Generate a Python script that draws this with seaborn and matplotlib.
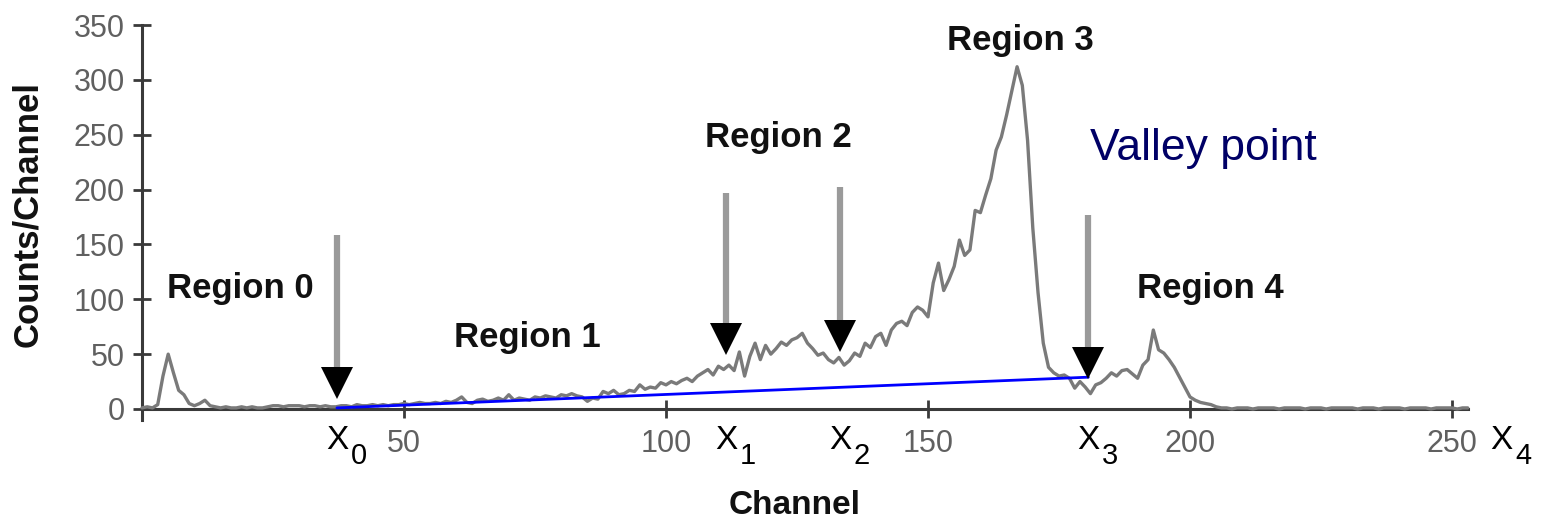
import numpy as np
import pandas as pd
import matplotlib
matplotlib.use("Agg")
import matplotlib.pyplot as plt
import seaborn as sns

# Gamma spectrum counts, one value per channel (0..253)
counts = (
    [1, 2, 1, 4, 30, 50, 33, 17, 13, 5, 3, 5, 8, 3]
    + [2, 1, 2, 1, 1, 2, 1, 2, 1, 1, 2]
    + [3, 3, 2, 3, 3, 3, 2, 3, 3, 2, 3, 2]
    + [2, 3, 3, 2, 4, 3, 3, 4, 3, 4, 3, 4]
    + [4, 5, 4, 5, 6, 5, 5, 6, 5, 7, 6, 8]
    + [11, 6, 5, 8, 9, 7, 8, 10, 8, 13]
    + [8, 10, 9, 8, 11, 10, 12, 11, 10, 13]
    + [12, 14, 12, 11, 7, 10, 9, 16, 14, 17]
    + [13, 14, 17, 16, 22, 18, 20, 19, 24, 22]
    + [25, 23, 26, 28, 25, 30, 33, 36, 31, 39]
    + [36, 40, 35, 52, 30, 48, 60, 45, 58, 50]
    + [55, 61, 58, 63, 65, 69, 60, 55, 49, 51]
    + [45, 42, 47, 40, 44, 51, 48, 60, 56, 66]
    + [69, 58, 72, 78, 80, 76, 88, 93, 90, 84]
    + [115, 133, 108, 118, 130, 154, 140, 145, 181, 179]
    + [195, 210, 236, 248, 268, 290, 312, 295, 245, 165]
    + [106, 60, 38, 33, 30, 31, 28, 19, 25, 20]
    + [14, 22, 24, 28, 33, 30, 35, 36, 32, 28]
    + [40, 45, 72, 54, 51, 45, 38, 29, 20, 11]
    + [8, 6, 5, 4, 2]
    + [1, 1, 0, 1, 1, 1, 0, 1, 1, 1, 1, 0, 1, 1, 1, 1,
       0, 1, 1, 1, 0, 1, 1, 1, 1, 1, 0, 1, 1, 1, 0, 1,
       1, 1, 1, 0, 1, 1, 1, 1, 0, 1, 1, 1, 1, 0, 1, 1]
)
channels = list(range(len(counts)))

# Region boundary markers x0..x3 (channel, arrow tip, arrow tail)
marker_channels = [37.2, 111.5, 133.2, 180.6]
marker_tips = [11, 51, 54, 29]
marker_tails = [159, 197, 202, 177]
marker_names = ["0", "1", "2", "3"]
# end-of-spectrum label x4
end_label_channel = 259.5

# Linear background between x0 and x3
baseline_channels = [37.2, 180.6]
baseline_counts = [1, 29]

# Region captions
region_names = ["Region 0", "Region 1", "Region 2", "Region 3", "Region 4"]
region_x = [18.7, 73.6, 121.4, 167.7, 203.8]
region_y = [101, 56.5, 239, 327, 101]

x_ticks = [50, 100, 150, 200, 250]
y_ticks = [0, 50, 100, 150, 200, 250, 300, 350]

sns.set_style("ticks")
plt.rcParams["font.family"] = ["Liberation Sans", "DejaVu Sans"]

W, H = 1541, 524
fig = plt.figure(figsize=(W / 100, H / 100), dpi=100)
# pixel geometry of the plotting frame
px_per_ch, px_x0 = 5.24, 142.0
px_per_cnt, px_y0 = 1.097, 409.0
ax_left_px, ax_bottom_px = 100, 430
ax = fig.add_axes([ax_left_px / W, (H - ax_bottom_px) / H,
                   (W - ax_left_px) / W, ax_bottom_px / H])
ax.set_xlim((ax_left_px - px_x0) / px_per_ch, (W - px_x0) / px_per_ch)
ax.set_ylim((px_y0 - ax_bottom_px) / px_per_cnt, px_y0 / px_per_cnt)
ax.patch.set_alpha(0)

df = pd.DataFrame({"Channel": channels, "Counts": counts})
sns.lineplot(data=df, x="Channel", y="Counts", ax=ax, color="#7a7a7a",
             linewidth=2.4, zorder=2)

ax.plot(baseline_channels, baseline_counts, color="#0000ff", lw=2.0, zorder=3)

head_size = 22.5
head_h = head_size * 1.389 / px_per_cnt * 0.9
for ch, tip, tail in zip(marker_channels, marker_tips, marker_tails):
    ax.vlines(ch, tip + head_h, tail, color="#9a9a9a", lw=4.5, zorder=4)
    ax.plot([ch], [tip + head_h / 2], marker="v", ms=head_size,
            color="black", mec="black", mew=0, zorder=5, clip_on=False)

for ch, name in zip(marker_channels + [end_label_channel],
                    marker_names + ["4"]):
    ax.text(ch, -29, "X", fontsize=24, ha="center", va="center",
            color="black", clip_on=False)
    ax.text(ch + 4.2, -43, name, fontsize=21, ha="center", va="center",
            color="black", clip_on=False)

for name, xx, yy in zip(region_names, region_x, region_y):
    ax.text(xx, yy, name, fontsize=25, fontweight="bold", ha="center",
            va="baseline", color="#111111")

ax.text(180.9, 227, "Valley point", fontsize=32, ha="left", va="baseline",
        color="#000066")

for side in ["top", "right"]:
    ax.spines[side].set_visible(False)
ax.spines["left"].set_position(("data", 0))
ax.spines["bottom"].set_position(("data", 0))
ax.spines["left"].set_bounds(-10, 350)
ax.spines["bottom"].set_bounds(0, 253)
for side in ["left", "bottom"]:
    ax.spines[side].set_linewidth(2.2)
    ax.spines[side].set_color("#3a3a3a")
    ax.spines[side].set_zorder(1)

ax.set_xticks(x_ticks)
ax.set_yticks(y_ticks)
ax.tick_params(axis="both", direction="inout", length=13, width=2,
               color="#3a3a3a", labelsize=22, labelcolor="#606060")
ax.tick_params(axis="y", pad=6)
ax.tick_params(axis="x", pad=8)
ax.set_xlabel("")
ax.set_ylabel("")

fig.text(28 / W, 1 - 214 / H, "Counts/Channel", rotation=90, fontsize=25,
         fontweight="bold", ha="center", va="center", color="#111111")
fig.text(795 / W, 1 - 505 / H, "Channel", fontsize=24, fontweight="bold",
         ha="center", va="center", color="#111111")

fig.savefig("out.png", dpi=100)
